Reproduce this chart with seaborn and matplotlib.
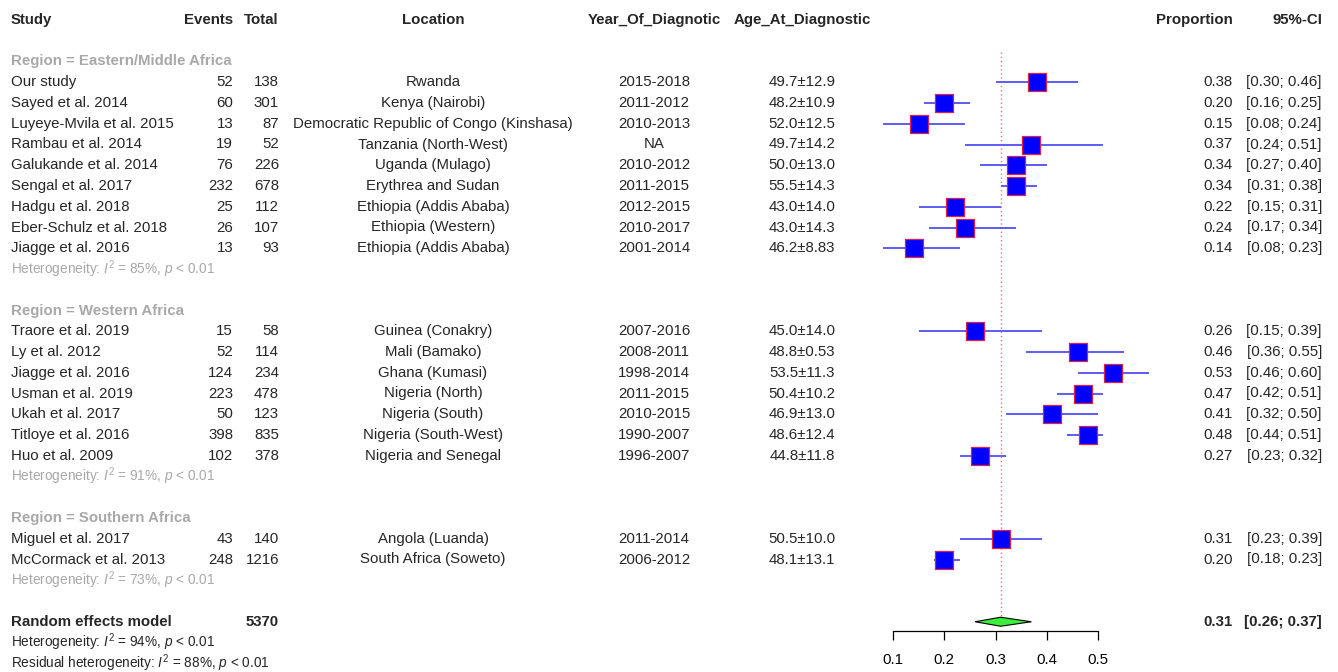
import numpy as np
import pandas as pd
import matplotlib
matplotlib.use("Agg")
import matplotlib.pyplot as plt
import seaborn as sns

# ---- data ----
regions = ["Eastern/Middle Africa", "Western Africa", "Southern Africa"]
region_sizes = [9, 7, 2]
region_het = [85, 91, 73]

studies = ["Our study", "Sayed et al. 2014", "Luyeye-Mvila et al. 2015", "Rambau et al. 2014",
           "Galukande et al. 2014", "Sengal et al. 2017", "Hadgu et al. 2018",
           "Eber-Schulz et al. 2018", "Jiagge et al. 2016",
           "Traore et al. 2019", "Ly et al. 2012", "Jiagge et al. 2016", "Usman et al. 2019",
           "Ukah et al. 2017", "Titloye et al. 2016", "Huo et al. 2009",
           "Miguel et al. 2017", "McCormack et al. 2013"]
events = [52, 60, 13, 19, 76, 232, 25, 26, 13,
          15, 52, 124, 223, 50, 398, 102,
          43, 248]
totals = [138, 301, 87, 52, 226, 678, 112, 107, 93,
          58, 114, 234, 478, 123, 835, 378,
          140, 1216]
locations = ["Rwanda", "Kenya (Nairobi)", "Democratic Republic of Congo (Kinshasa)",
             "Tanzania (North-West)", "Uganda (Mulago)", "Erythrea and Sudan",
             "Ethiopia (Addis Ababa)", "Ethiopia (Western)", "Ethiopia (Addis Ababa)",
             "Guinea (Conakry)", "Mali (Bamako)", "Ghana (Kumasi)", "Nigeria (North)",
             "Nigeria (South)", "Nigeria (South-West)", "Nigeria and Senegal",
             "Angola (Luanda)", "South Africa (Soweto)"]
years = ["2015-2018", "2011-2012", "2010-2013", "NA", "2010-2012", "2011-2015",
         "2012-2015", "2010-2017", "2001-2014",
         "2007-2016", "2008-2011", "1998-2014", "2011-2015", "2010-2015", "1990-2007",
         "1996-2007",
         "2011-2014", "2006-2012"]
ages = ["49.7±12.9", "48.2±10.9", "52.0±12.5", "49.7±14.2", "50.0±13.0", "55.5±14.3",
        "43.0±14.0", "43.0±14.3", "46.2±8.83",
        "45.0±14.0", "48.8±0.53", "53.5±11.3", "50.4±10.2", "46.9±13.0", "48.6±12.4",
        "44.8±11.8",
        "50.5±10.0", "48.1±13.1"]
props = [0.38, 0.20, 0.15, 0.37, 0.34, 0.34, 0.22, 0.24, 0.14,
         0.26, 0.46, 0.53, 0.47, 0.41, 0.48, 0.27,
         0.31, 0.20]
ci_low = [0.30, 0.16, 0.08, 0.24, 0.27, 0.31, 0.15, 0.17, 0.08,
          0.15, 0.36, 0.46, 0.42, 0.32, 0.44, 0.23,
          0.23, 0.18]
ci_high = [0.46, 0.25, 0.24, 0.51, 0.40, 0.38, 0.31, 0.34, 0.23,
           0.39, 0.55, 0.60, 0.51, 0.50, 0.51, 0.32,
           0.39, 0.23]

overall_total = 5370
overall_prop, overall_low, overall_high = 0.31, 0.26, 0.37
overall_het = 94
resid_het = 88
xticks = [0.1, 0.2, 0.3, 0.4, 0.5]

# ---- style ----
sns.set_theme(style="white")
plt.rcParams["font.family"] = ["Liberation Sans", "DejaVu Sans"]
plt.rcParams["mathtext.fontset"] = "custom"
plt.rcParams["mathtext.rm"] = "Liberation Sans"
plt.rcParams["mathtext.it"] = "Liberation Sans:italic"

W, H = 1338, 672
FS = 10.8
FS_HET = 9.8
GREY = "#a8a8a8"

# ---- row layout ----
rows = []
het_rows = []
region_rows = []
r = 2
for n in region_sizes:
    region_rows.append(r)
    r += 1
    rows += list(range(r, r + n))
    r += n
    het_rows.append(r)
    r += 2
model_row = r

df = pd.DataFrame({"study": studies, "events": events, "total": totals,
                   "location": locations, "year": years, "age": ages,
                   "prop": props, "lo": ci_low, "hi": ci_high, "row": rows})

fig = plt.figure(figsize=(W / 100, H / 100), dpi=100)
ax = fig.add_axes([0, 0, 1, 1])

# x: 0.1 sits at 893 px, 0.5 at 1098 px; y: one row every 20.75 px, first at 20 px
ppu = (1098 - 893) / 0.4
row_h, top = 20.75, 20
ax.set_xlim(0.1 - 893 / ppu, 0.1 + (W - 893) / ppu)
ax.set_ylim((H - top) / row_h, -top / row_h)

# forest marks
ax.hlines(df["row"], df["lo"], df["hi"], colors="#5c5cf4", lw=1.4, zorder=2)
sns.scatterplot(data=df, x="prop", y="row", marker="s", s=150, color="#0000ff",
                edgecolor="#e0204a", linewidth=0.9, ax=ax, zorder=3, legend=False)

d = 4.5 / row_h
ax.fill([overall_low, overall_prop, overall_high, overall_prop],
        [model_row, model_row - d, model_row, model_row + d],
        facecolor="#3ded3d", edgecolor="black", lw=0.8, zorder=3)
ax.vlines(overall_prop, 1.55, model_row - d, colors="#e07878",
          linestyles=(0, (1, 2)), lw=1.0, zorder=1)

# x axis under the forest
axis_row = (631 - top) / row_h
for s in ["top", "left", "right"]:
    ax.spines[s].set_visible(False)
ax.spines["bottom"].set_position(("data", axis_row))
ax.spines["bottom"].set_bounds(xticks[0], xticks[-1])
ax.spines["bottom"].set_color("black")
ax.spines["bottom"].set_linewidth(0.9)
ax.set_xticks(xticks)
ax.set_xticklabels([f"{t:.1f}" for t in xticks])
ax.tick_params(axis="x", bottom=True, direction="out", length=6.5, width=0.9,
               pad=9, labelsize=FS, colors="black")
ax.set_yticks([])
ax.set_xlabel("")
ax.set_ylabel("")

# ---- text table ----
tr = ax.get_yaxis_transform()


def txt(xpx, row, s, ha="left", **kw):
    kw.setdefault("fontsize", FS)
    ax.text(xpx / W, row, s, ha=ha, va="center", transform=tr, **kw)


txt(11, 0, "Study", fontweight="bold")
txt(233, 0, "Events", ha="right", fontweight="bold")
txt(279, 0, "Total", ha="right", fontweight="bold")
txt(433, 0, "Location", ha="center", fontweight="bold")
txt(654, 0, "Year_Of_Diagnotic", ha="center", fontweight="bold")
txt(802, 0, "Age_At_Diagnostic", ha="center", fontweight="bold")
txt(1233, 0, "Proportion", ha="right", fontweight="bold")
txt(1322, 0, "95%-CI", ha="right", fontweight="bold")

for name, rr in zip(regions, region_rows):
    txt(11, rr, f"Region = {name}", fontweight="bold", color=GREY)
for h, rr in zip(region_het, het_rows):
    txt(11, rr, rf"Heterogeneity: $I^2$ = {h}%, $p$ < 0.01", color=GREY, fontsize=FS_HET)

for _, row in df.iterrows():
    y = row["row"]
    txt(11, y, row["study"])
    txt(233, y, str(row["events"]), ha="right")
    txt(279, y, str(row["total"]), ha="right")
    txt(433, y, row["location"], ha="center")
    txt(654, y, row["year"], ha="center")
    txt(802, y, row["age"], ha="center")
    txt(1233, y, f"{row['prop']:.2f}", ha="right")
    txt(1322, y, f"[{row['lo']:.2f}; {row['hi']:.2f}]", ha="right")

txt(11, model_row, "Random effects model", fontweight="bold")
txt(279, model_row, str(overall_total), ha="right", fontweight="bold")
txt(1233, model_row, f"{overall_prop:.2f}", ha="right", fontweight="bold")
txt(1322, model_row, f"[{overall_low:.2f}; {overall_high:.2f}]", ha="right", fontweight="bold")
txt(11, model_row + 1, rf"Heterogeneity: $I^2$ = {overall_het}%, $p$ < 0.01", fontsize=FS_HET)
txt(11, model_row + 2, rf"Residual heterogeneity: $I^2$ = {resid_het}%, $p$ < 0.01", fontsize=FS_HET)

fig.savefig("out.png", dpi=100)
